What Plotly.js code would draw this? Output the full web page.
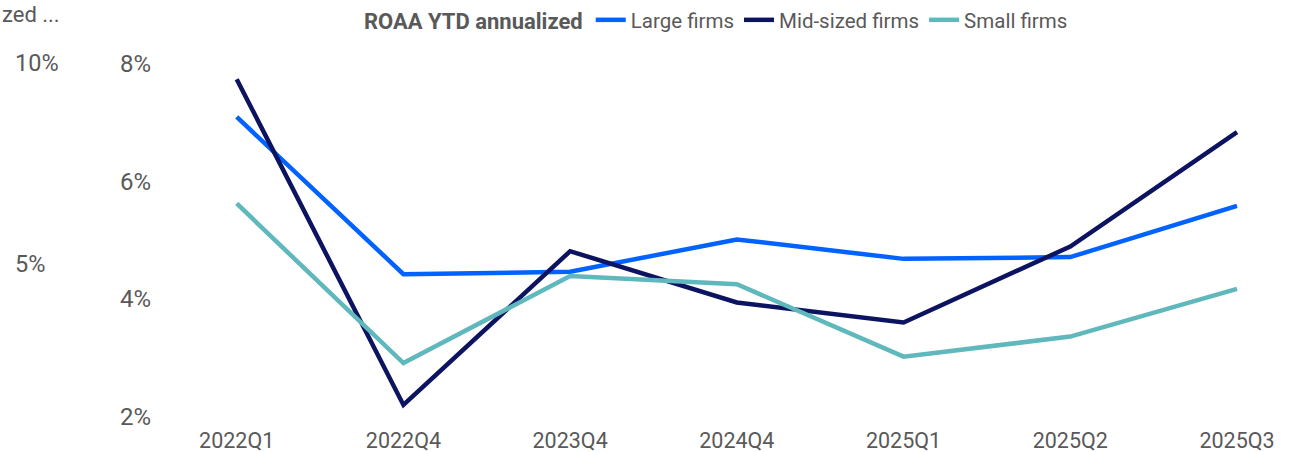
<!DOCTYPE html>
<html>
<head>
<meta charset="utf-8">
<script src="https://cdn.plot.ly/plotly-3.0.1.min.js"></script>
<style>html,body{margin:0;padding:0;background:#fff;}#chart{width:1305px;height:452px;}</style>
</head>
<body>
<div id="chart"></div>
<script>
const categories = ["2022Q1","2022Q4","2023Q4","2024Q4","2025Q1","2025Q2","2025Q3"];
const largeFirms = [7.09, 4.42, 4.46, 5.01, 4.68, 4.71, 5.58];
const midSizedFirms = [7.73, 2.20, 4.81, 3.94, 3.60, 4.89, 6.83];
const smallFirms = [5.62, 2.91, 4.39, 4.25, 3.02, 3.36, 4.17];
const seriesNames = ["Large firms", "Mid-sized firms", "Small firms"];
const seriesColors = ["#0062FF", "#0C1462", "#5FB8BC"];
const legendTitle = "ROAA YTD annualized";
const cutTitle = "zed ...";

const textGray = "#595959";
const font = {family: "Roboto, 'Noto Sans', sans-serif", size: 20, color: textGray};

const series = [largeFirms, midSizedFirms, smallFirms];
const traces = series.map((vals, i) => ({
  type: "scatter",
  mode: "lines",
  x: categories,
  y: vals,
  name: seriesNames[i],
  line: {color: seriesColors[i], width: 4.5},
  hoverinfo: "x+y+name"
}));
traces.push({type: "scatter", mode: "lines", x: [], y: [], yaxis: "y2", showlegend: false, hoverinfo: "skip"});

const W = 1305;
const layout = {
  width: W, height: 452,
  margin: {l: 0, r: 0, t: 40, b: 27},
  paper_bgcolor: "#fff", plot_bgcolor: "#fff",
  font: font,
  showlegend: true,
  legend: {
    orientation: "h",
    x: 362 / W, xanchor: "left",
    y: 1, yanchor: "top", yref: "container",
    title: {text: "<b>" + legendTitle + "</b>", side: "left", font: {size: 22, color: textGray}},
    font: {size: 20.5, color: textGray},
    itemwidth: 30,
    tracegroupgap: 0
  },
  xaxis: {
    type: "category",
    domain: [186.7 / W, 1287 / W],
    range: [-0.3, 6.3],
    showgrid: false, zeroline: false, showline: false,
    ticks: "",
    tickfont: {size: 21.5, color: textGray}
  },
  yaxis: {
    anchor: "free", position: 151 / W,
    range: [1.859, 8.396],
    dtick: 2, tick0: 0,
    ticksuffix: "%",
    showgrid: false, zeroline: false, showline: false,
    ticks: "",
    tickfont: {size: 24, color: textGray}
  },
  yaxis2: {
    overlaying: "y", side: "right",
    anchor: "free", position: 14 / W,
    range: [0.978, 10.555],
    dtick: 5, tick0: 0,
    ticksuffix: "%",
    showgrid: false, zeroline: false, showline: false,
    ticks: "",
    tickfont: {size: 23.5, color: textGray}
  },
  annotations: [{
    text: cutTitle, xref: "paper", yref: "paper",
    x: 0, xanchor: "left",
    y: 1, yanchor: "bottom", yshift: 11,
    showarrow: false,
    font: {size: 22, color: textGray}
  }]
};

Plotly.newPlot("chart", traces, layout, {displayModeBar: false, staticPlot: true});
</script>
</body>
</html>
